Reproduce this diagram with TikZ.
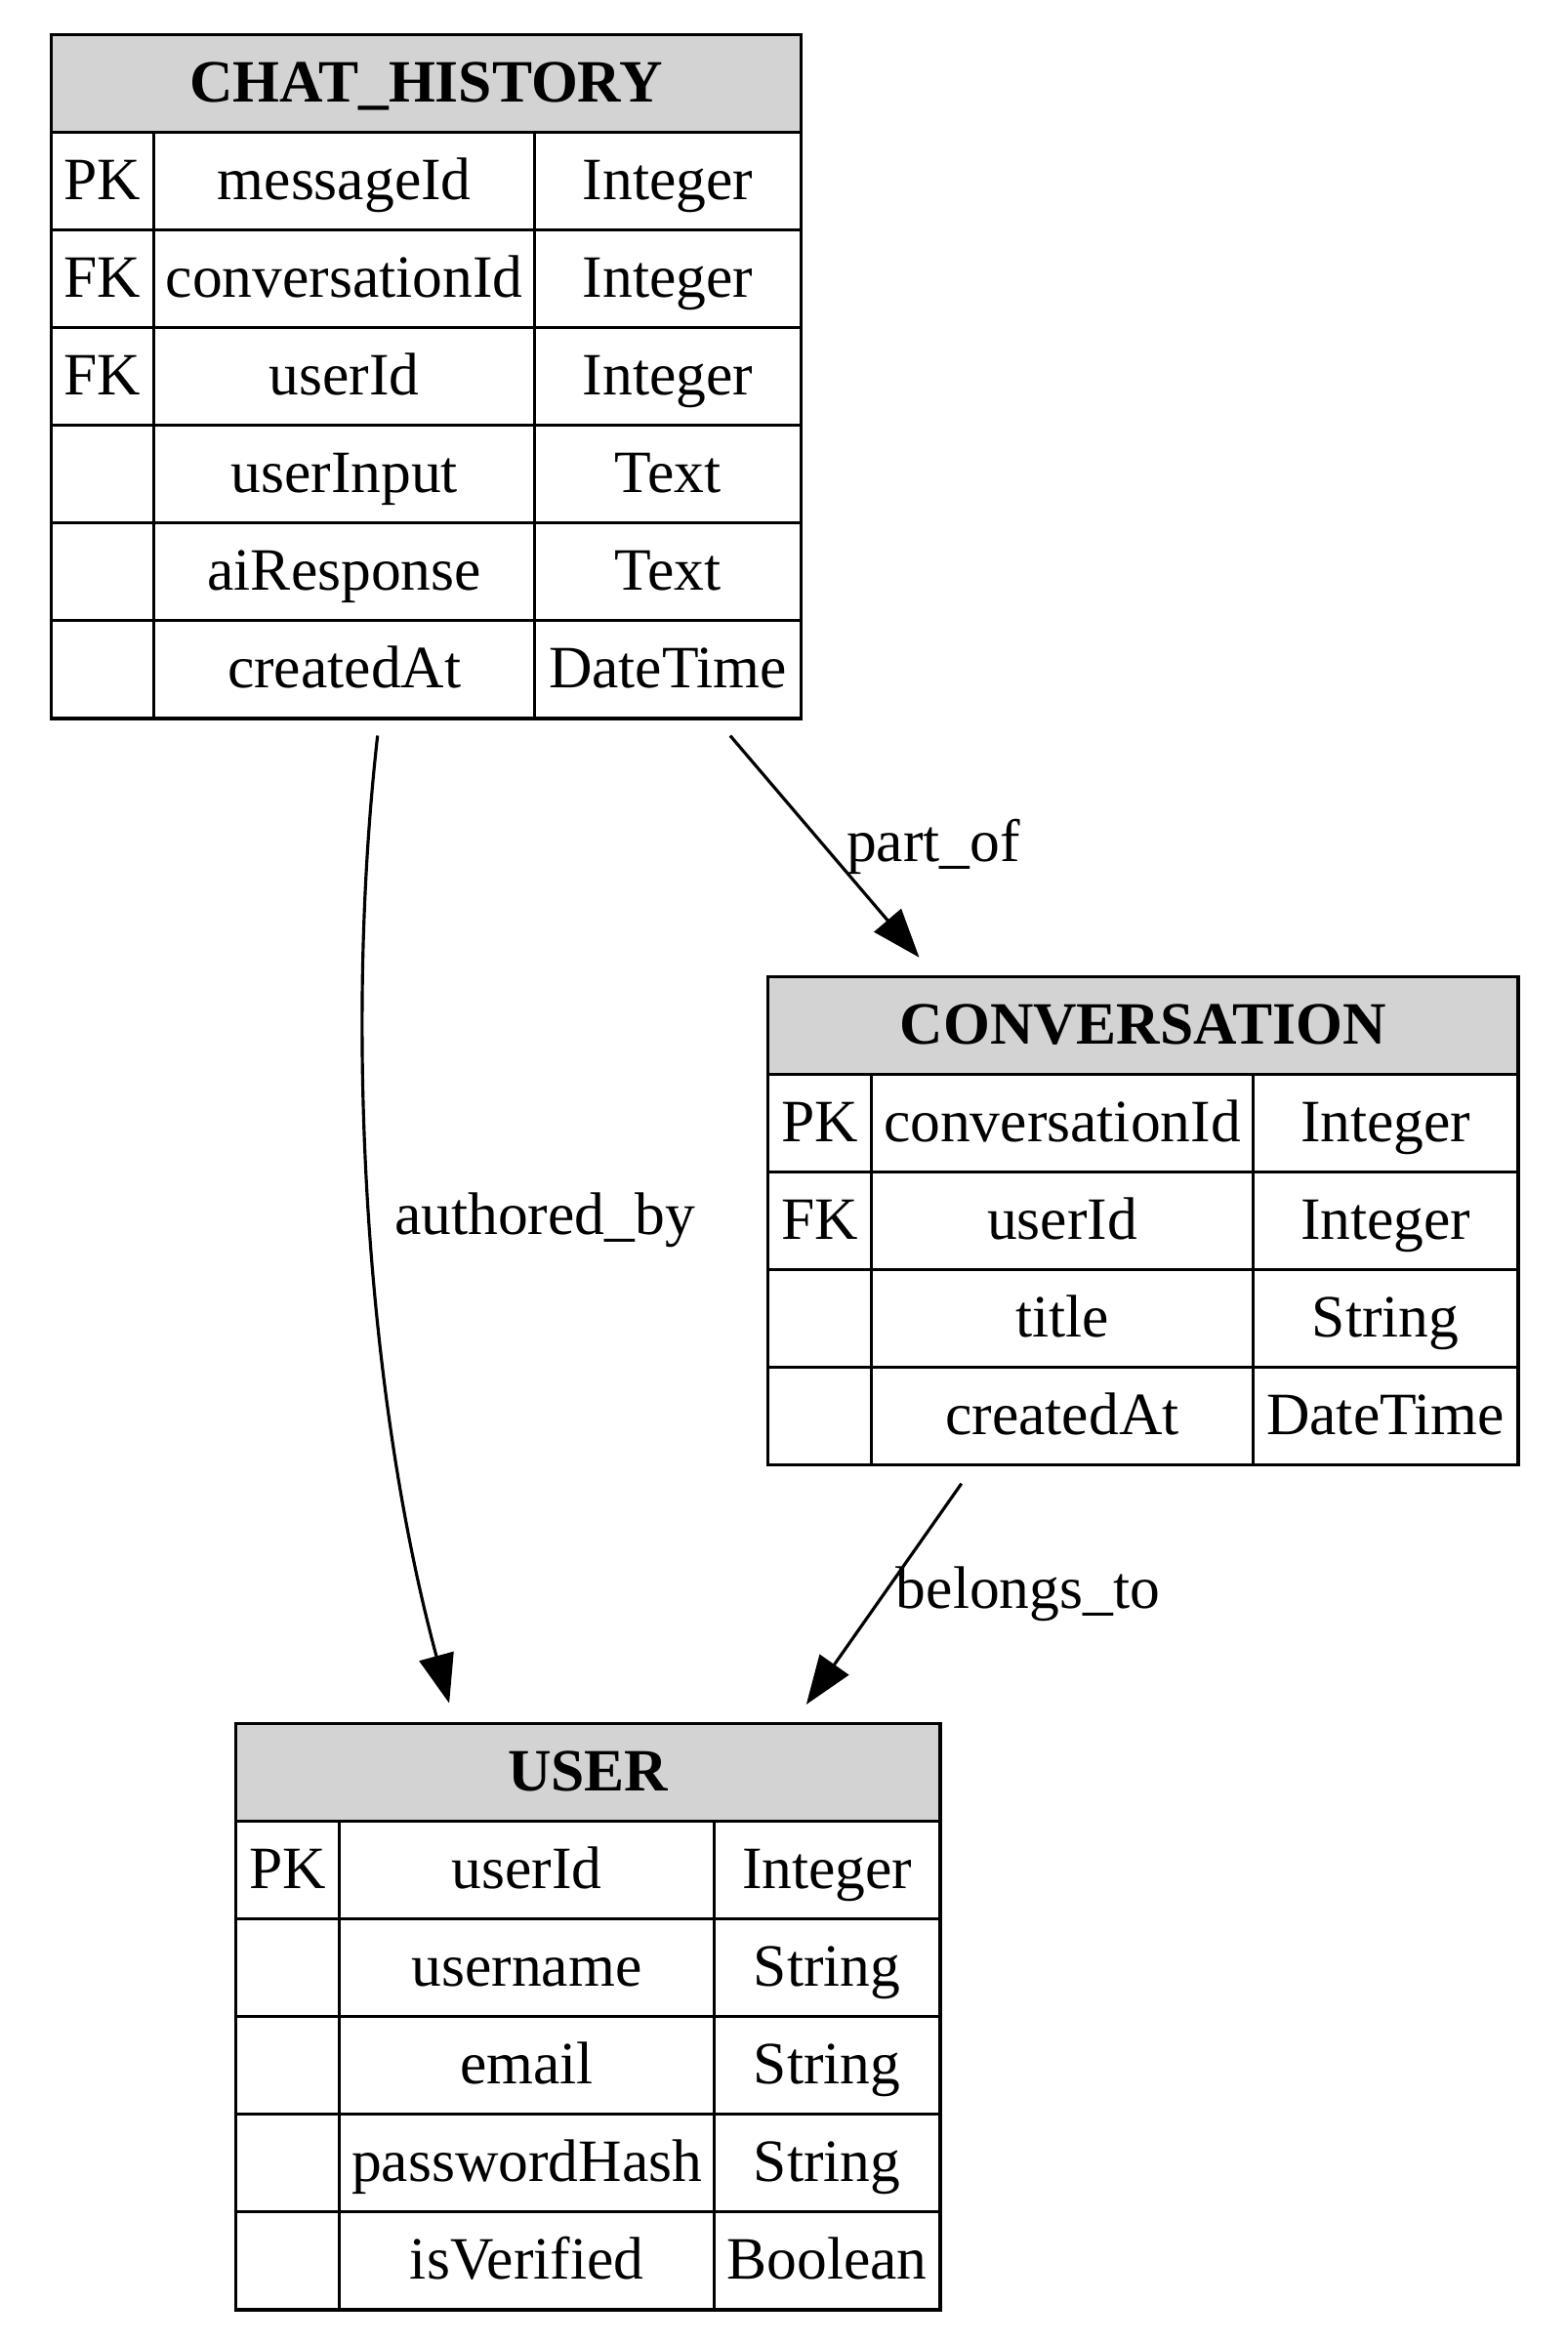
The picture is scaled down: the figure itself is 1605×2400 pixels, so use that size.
\documentclass[tikz,border=0pt]{standalone}
\usepackage{fontspec}
\setmainfont{Liberation Serif}
\usepackage{tikz}
\usetikzlibrary{arrows.meta,positioning,calc}
\definecolor{hdgray}{HTML}{D3D3D3}

\begin{document}
\begin{tikzpicture}[x=0.01cm,y=-0.01cm,font=\fontsize{17.5}{21}\selectfont,
   cell/.style={draw,line width=0.9pt,minimum height=1cm,inner sep=0pt,anchor=north west,
     text height=13pt,text depth=2pt},
   hd/.style={cell,fill=hdgray,font=\fontsize{17.5}{21}\selectfont\bfseries},
   frame/.style={draw,line width=0.9pt,inner sep=0pt,anchor=north west},
   rel/.style={-{Triangle[length=0.5cm,width=0.36cm]},line width=0.9pt},
   lbl/.style={inner sep=1pt}]
  \useasboundingbox (0,0) rectangle (1605,2400);
  % CHAT_HISTORY
  \node[hd,minimum width=7.681cm] (ch-hd) at (50.5,34) {CHAT\_HISTORY};
  \foreach \k/\n/\t [count=\i] in {PK/messageId/Integer,FK/conversationId/Integer,
      FK/userId/Integer,/userInput/Text,/aiResponse/Text,/createdAt/DateTime} {
    \node[cell,minimum width=1.055cm] (ch-k\i) at (50.5,{34+100*\i}) {\k};
    \node[cell,minimum width=3.9cm] (ch-n\i) at (156,{34+100*\i}) {\n};
    \node[cell,minimum width=2.726cm] (ch-t\i) at (546,{34+100*\i}) {\t};
  }
  \node[frame,minimum width=7.681cm,minimum height=7cm] (ch) at (50.5,34) {};
  % CONVERSATION
  \node[hd,minimum width=7.68cm] (conv-hd) at (785,999) {CONVERSATION};
  \foreach \k/\n/\t [count=\i] in {PK/conversationId/Integer,FK/userId/Integer,
      /title/String,/createdAt/DateTime} {
    \node[cell,minimum width=1.055cm] (conv-k\i) at (785,{999+100*\i}) {\k};
    \node[cell,minimum width=3.915cm] (conv-n\i) at (890.5,{999+100*\i}) {\n};
    \node[cell,minimum width=2.71cm] (conv-t\i) at (1282,{999+100*\i}) {\t};
  }
  \node[frame,minimum width=7.68cm,minimum height=5cm] (conv) at (785,999) {};
  % USER
  \node[hd,minimum width=7.21cm] (usr-hd) at (240,1764) {USER};
  \foreach \k/\n/\t [count=\i] in {PK/userId/Integer,/username/String,
      /email/String,/passwordHash/String,/isVerified/Boolean} {
    \node[cell,minimum width=1.058cm] (usr-k\i) at (240,{1764+100*\i}) {\k};
    \node[cell,minimum width=3.842cm] (usr-n\i) at (345.8,{1764+100*\i}) {\n};
    \node[cell,minimum width=2.31cm] (usr-t\i) at (730,{1764+100*\i}) {\t};
  }
  \node[frame,minimum width=7.21cm,minimum height=6cm] (usr) at (240,1764) {};
  % relations
  \draw[rel,shorten <=0.21cm,shorten >=0.24cm]
    ($(ch.south west)!0.886!(ch.south east)$) -- ($(conv.north west)!0.223!(conv.north east)$);
  \node[lbl] (l-part) at (956,867) {part\_of};
  \draw[rel,shorten <=0.16cm,shorten >=0.2cm]
    ($(ch.south west)!0.438!(ch.south east)$) .. controls (350,1080) and (380,1450)
    .. ($(usr.north west)!0.311!(usr.north east)$);
  \node[lbl] (l-auth) at (558,1250) {authored\_by};
  \draw[rel,shorten <=0.21cm,shorten >=0.22cm]
    ($(conv.south west)!0.2745!(conv.south east)$) -- ($(usr.north west)!0.791!(usr.north east)$);
  \node[lbl] (l-belong) at (1053,1633) {belongs\_to};
\end{tikzpicture}
\end{document}
